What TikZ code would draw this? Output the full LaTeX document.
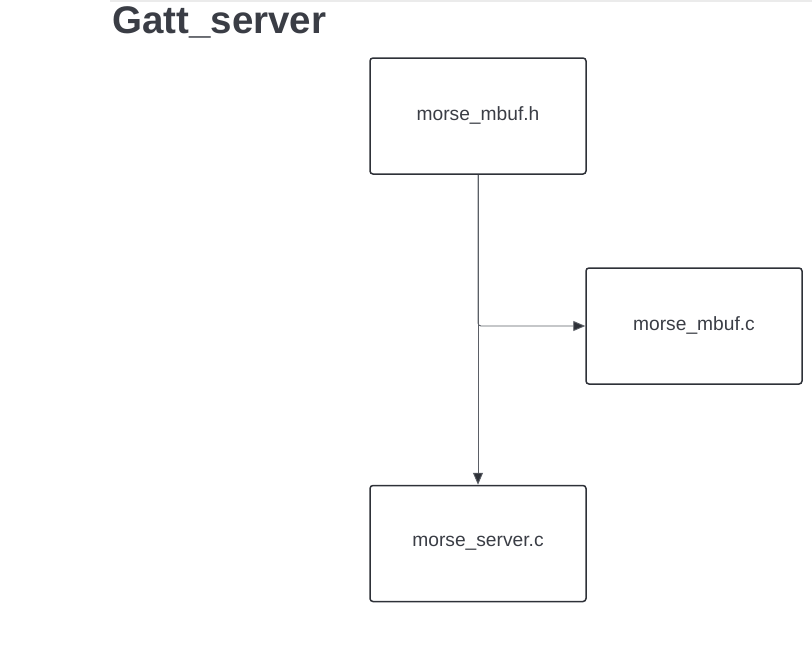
\documentclass[tikz,border=0pt]{standalone}
\usepackage{fontspec}
\setmainfont{Liberation Sans}
\usetikzlibrary{arrows.meta}
\definecolor{boxline}{HTML}{2E3138}
\definecolor{txt}{HTML}{3A3D45}
\definecolor{conn}{HTML}{5B5F66}
\definecolor{topline}{HTML}{EBEBEB}
\tikzset{
  filebox/.style={draw=boxline, line width=1.5pt, rounded corners=3pt, minimum width=216pt, minimum height=116pt, inner sep=0pt},
  boxlabel/.style={text=txt, font=\fontsize{19.2}{22}\selectfont, inner sep=0pt},
  conline/.style={draw=conn, line width=0.9pt, -{Triangle[length=12pt,width=10pt,fill=boxline]}},
}
\begin{document}
\begin{tikzpicture}[x=1pt,y=1pt]
\useasboundingbox (0,0) rectangle (812,-657);
\draw[topline, line width=1.5pt] (110,-0.75) -- (812,-0.75);
\node[anchor=base west, inner sep=0pt, text=txt, font=\bfseries\fontsize{38.5}{46}\selectfont] (title) at (112,-33) {Gatt\_server};
\node[filebox] (h) at (478,-116) {};
\node[filebox] (c) at (694,-326) {};
\node[filebox] (s) at (478,-543.5) {};
\node[boxlabel] (hl) at (478,-115) {morse\_mbuf.h};
\node[boxlabel] (cl) at (694,-325) {morse\_mbuf.c};
\node[boxlabel] (sl) at (478,-543) {morse\_server.c};
\coordinate (j) at (478,-326);
\draw[conline] (h.south) -- (s.north);
\draw[conline, rounded corners=3pt] (h.south) -- (j) -- (c.west);
\end{tikzpicture}
\end{document}
